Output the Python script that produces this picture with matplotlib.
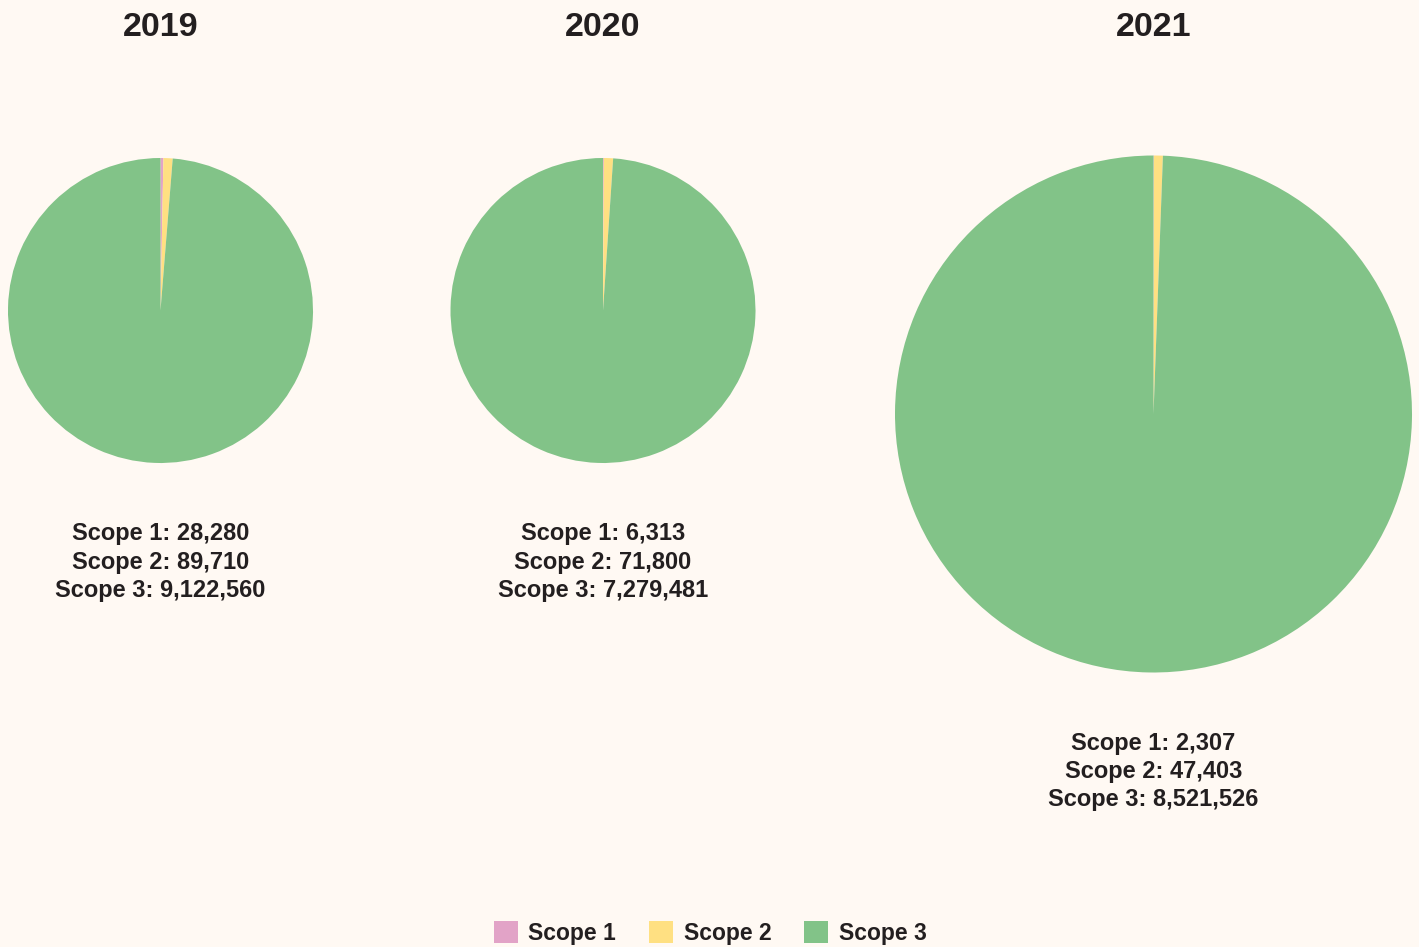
import matplotlib

matplotlib.use("Agg")

import matplotlib.pyplot as plt
from matplotlib.patches import Patch

years = ["2019", "2020", "2021"]
scope1 = [28280, 6313, 2307]
scope2 = [89710, 71800, 47403]
scope3 = [9122560, 7279481, 8521526]

scope_names = ["Scope 1", "Scope 2", "Scope 3"]
colors = ["#E2A3C7", "#FFE082", "#82C388"]

bg = "#FFF9F3"
ink = "#231F20"

W, H = 1419, 947
plt.rcParams["font.family"] = ["Liberation Sans", "DejaVu Sans"]

fig = plt.figure(figsize=(W / 100, H / 100), dpi=100, facecolor=bg)

# pie centre (px) and radius (px) for each year
layout = [(160.5, 310.5, 152.5), (603, 310.5, 152.5), (1153.5, 414, 258.5)]

for i, (cx, cy, r) in enumerate(layout):
    ax = fig.add_axes([(cx - r) / W, 1 - (cy + r) / H, 2 * r / W, 2 * r / H])
    ax.pie(
        [scope1[i], scope2[i], scope3[i]],
        colors=colors,
        startangle=90,
        counterclock=False,
        radius=1,
        wedgeprops={"linewidth": 0},
    )
    ax.set_xlim(-1, 1)
    ax.set_ylim(-1, 1)
    ax.axis("off")

    fig.text(cx / W, 1 - 28 / H, years[i], ha="center", va="center",
             fontsize=24.5, fontweight="bold", color=ink)

    label = "\n".join([
        f"Scope 1: {scope1[i]:,}",
        f"Scope 2: {scope2[i]:,}",
        f"Scope 3: {scope3[i]:,}",
    ])
    fig.text(cx / W, 1 - (cy + r + 99) / H, label, ha="center", va="center",
             fontsize=17, fontweight="bold", color=ink, linespacing=1.29)

handles = [Patch(facecolor=c, edgecolor="none") for c in colors]
fig.legend(
    handles, scope_names,
    loc="center", bbox_to_anchor=(0.5005, 1 - 933 / H),
    ncol=3, frameon=False,
    prop={"size": 16.5, "weight": "bold"},
    handlelength=1.05, handleheight=1.05, handletextpad=0.45,
    columnspacing=1.45, labelcolor=ink,
)

fig.savefig("out.png", dpi=100, facecolor=bg)
plt.close()
